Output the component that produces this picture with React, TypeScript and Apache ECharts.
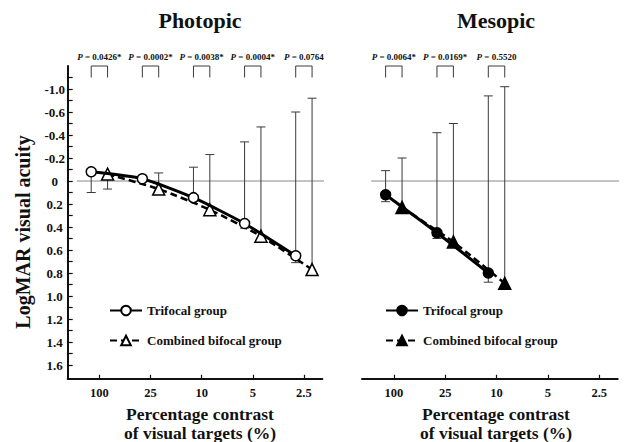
import React, { useEffect, useRef } from "react";
import * as echarts from "echarts";

// ---------- data ----------
const contrastLabels = ["100", "25", "10", "5", "2.5"];
const contrastTicks = [0, 1, 2, 3, 4];
const yLabelValues = [-0.8, -0.6, -0.4, -0.2, 0, 0.2, 0.4, 0.6, 0.8, 1.0, 1.2, 1.4, 1.6];
const yLabelTexts = ["-1.0", "-0.6", "-0.4", "-0.2", "0", "0.2", "0.4", "0.6", "0.8", "1.0", "1.2", "1.4", "1.6"];
const yTickValues = [
  -0.9, -0.8, -0.7, -0.6, -0.5, -0.4, -0.3, -0.2, -0.1, 0, 0.1, 0.2, 0.3, 0.4, 0.5, 0.6, 0.7, 0.8,
  0.9, 1.0, 1.1, 1.2, 1.3, 1.4, 1.5, 1.6,
];

const photopicTrifocal = [-0.08, -0.02, 0.145, 0.37, 0.65];
const photopicTrifocalUpper = [null, -0.05, -0.12, -0.34, -0.6];
const photopicTrifocalLower = [0.1, null, null, 0.41, 0.71];
const photopicBifocal = [-0.06, 0.07, 0.25, 0.48, 0.77];
const photopicBifocalUpper = [null, -0.07, -0.23, -0.47, -0.72];
const photopicBifocalLower = [0.07, null, null, null, null];
const photopicP = ["0.0426*", "0.0002*", "0.0038*", "0.0004*", "0.0764"];

const mesopicTrifocal = [0.12, 0.45, 0.8];
const mesopicTrifocalUpper = [-0.09, -0.42, -0.74];
const mesopicTrifocalLower = [0.18, 0.5, 0.88];
const mesopicBifocal = [0.23, 0.53, 0.89];
const mesopicBifocalUpper = [-0.2, -0.5, -0.82];
const mesopicBifocalLower = [null, null, null];
const mesopicP = ["0.0064*", "0.0169*", "0.5520"];

const TRI = "Trifocal group";
const BI = "Combined bifocal group";

// ---------- layout ----------
const FONT = "'Liberation Serif', 'Times New Roman', serif";
const X_MIN = -0.62;
const X_MAX = 4.36;
const Y_MIN = -1.0;
const Y_MAX = 1.72;
const DODGE = 0.16;
const ZERO_FROM = -0.44;
const ZERO_TO = 4.59;
const BRACKET_TOP = -1.0;
const BRACKET_LEG = -0.9;

type Num = number | null;

function errItems(means: number[], uppers: Num[], lowers: Num[], offset: number) {
  const out: number[][] = [];
  means.forEach((m, i) => {
    const x = i + offset;
    if (uppers[i] != null) out.push([x, m, uppers[i] as number]);
    if (lowers[i] != null) out.push([x, m, lowers[i] as number]);
  });
  return out;
}

function panelSeries(
  g: number,
  tri: number[],
  triU: Num[],
  triL: Num[],
  bi: number[],
  biU: Num[],
  biL: Num[],
  pvals: string[],
  filled: boolean
) {
  const fill = filled ? "#000" : "#fff";
  return [
    {
      type: "line",
      xAxisIndex: g,
      yAxisIndex: g,
      data: [
        [ZERO_FROM, 0],
        [ZERO_TO, 0],
      ],
      symbol: "none",
      clip: false,
      silent: true,
      lineStyle: { color: "#888", width: 1 },
      z: 1,
    },
    {
      type: "custom",
      xAxisIndex: g,
      yAxisIndex: g,
      silent: true,
      z: 2,
      encode: { x: 0, y: [1, 2] },
      data: [...errItems(tri, triU, triL, -DODGE), ...errItems(bi, biU, biL, DODGE)],
      renderItem: (params: any, api: any) => {
        const x = api.value(0);
        const p0 = api.coord([x, api.value(1)]);
        const p1 = api.coord([x, api.value(2)]);
        const st = { stroke: "#3a3a3a", lineWidth: 1 };
        return {
          type: "group",
          children: [
            { type: "line", shape: { x1: p0[0], y1: p0[1], x2: p1[0], y2: p1[1] }, style: st },
            { type: "line", shape: { x1: p1[0] - 4.5, y1: p1[1], x2: p1[0] + 4.5, y2: p1[1] }, style: st },
          ],
        };
      },
    },
    {
      name: TRI,
      type: "line",
      xAxisIndex: g,
      yAxisIndex: g,
      data: tri.map((v, i) => [i - DODGE, v]),
      symbol: "circle",
      symbolSize: 10,
      smooth: 0.2,
      itemStyle: { color: fill, borderColor: "#000", borderWidth: 1.5 },
      lineStyle: { color: "#000", width: 3 },
      z: 4,
    },
    {
      name: BI,
      type: "line",
      xAxisIndex: g,
      yAxisIndex: g,
      data: bi.map((v, i) => [i + DODGE, v]),
      symbol: "triangle",
      symbolSize: 12,
      smooth: 0.2,
      itemStyle: { color: fill, borderColor: "#000", borderWidth: 1.5 },
      lineStyle: { color: "#000", width: 2.5, type: [7, 4] },
      z: 3,
    },
    {
      type: "custom",
      xAxisIndex: g,
      yAxisIndex: g,
      silent: true,
      z: 2,
      encode: { x: 0, y: 1 },
      data: pvals.map((_, i) => [i, BRACKET_TOP]),
      renderItem: (params: any, api: any) => {
        const i = api.value(0);
        const a = api.coord([i - DODGE, BRACKET_LEG]);
        const b = api.coord([i - DODGE, BRACKET_TOP]);
        const c = api.coord([i + DODGE, BRACKET_TOP]);
        const d = api.coord([i + DODGE, BRACKET_LEG]);
        const txt = pvals[params.dataIndex];
        const base = { fontFamily: FONT, fontWeight: "bold", fontSize: 9, fill: "#111" };
        return {
          type: "group",
          children: [
            {
              type: "polyline",
              shape: { points: [a, b, c, d] },
              style: { stroke: "#3a3a3a", lineWidth: 1, fill: "none" },
            },
            {
              type: "text",
              x: (b[0] + c[0]) / 2,
              y: b[1] - 5,
              style: {
                text: `{i|P}{n| = ${txt}}`,
                align: "center",
                verticalAlign: "bottom",
                ...base,
                rich: {
                  i: { ...base, fontStyle: "italic" },
                  n: { ...base },
                },
              },
            },
          ],
        };
      },
    },
  ];
}

function xAxisFor(g: number) {
  return {
    type: "value",
    gridIndex: g,
    min: X_MIN,
    max: X_MAX,
    axisLine: { show: true, onZero: false, lineStyle: { color: "#111", width: 2 } },
    axisTick: {
      show: true,
      inside: true,
      length: 4,
      customValues: contrastTicks,
      lineStyle: { color: "#111", width: 1.2 },
    },
    axisLabel: {
      show: true,
      customValues: contrastTicks,
      formatter: (v: number) => contrastLabels[Math.round(v)] ?? "",
      fontFamily: FONT,
      fontWeight: "bold",
      fontSize: 12.5,
      color: "#111",
      margin: 8,
    },
    splitLine: { show: false },
  };
}

function yLabel(v: number) {
  const k = yLabelValues.findIndex((t) => Math.abs(t - v) < 1e-6);
  return k >= 0 ? yLabelTexts[k] : "";
}

const legendText = { fontFamily: FONT, fontWeight: "bold", fontSize: 13, color: "#111" };

const option: any = {
  animation: false,
  backgroundColor: "#fff",
  grid: [
    { left: 67.7, right: 306.7, top: 66, bottom: 63.2 },
    { left: 362, right: 11.3, top: 66, bottom: 63.2 },
  ],
  xAxis: [xAxisFor(0), xAxisFor(1)],
  yAxis: [
    {
      type: "value",
      gridIndex: 0,
      min: Y_MIN,
      max: Y_MAX,
      inverse: true,
      axisLine: { show: true, onZero: false, lineStyle: { color: "#111", width: 2 } },
      axisTick: {
        show: true,
        inside: true,
        length: 5,
        customValues: yTickValues,
        lineStyle: { color: "#111", width: 1.2 },
      },
      axisLabel: {
        show: true,
        customValues: yLabelValues,
        formatter: yLabel,
        align: "center",
        margin: 13,
        fontFamily: FONT,
        fontWeight: "bold",
        fontSize: 13,
        color: "#111",
      },
      splitLine: { show: false },
    },
    {
      type: "value",
      gridIndex: 1,
      min: Y_MIN,
      max: Y_MAX,
      inverse: true,
      show: false,
      splitLine: { show: false },
    },
  ],
  legend: [
    {
      left: 104,
      top: 299,
      orient: "vertical",
      itemWidth: 32,
      itemHeight: 12,
      itemGap: 17,
      selectedMode: false,
      data: [TRI, BI],
      textStyle: legendText,
    },
    {
      left: 380,
      top: 299,
      orient: "vertical",
      itemWidth: 32,
      itemHeight: 12,
      itemGap: 17,
      selectedMode: false,
      data: [
        { name: TRI, itemStyle: { color: "#000" } },
        { name: BI, itemStyle: { color: "#000" } },
      ],
      textStyle: legendText,
    },
  ],
  graphic: [
    {
      type: "text",
      x: 200,
      y: 20,
      style: { text: "Photopic", fontFamily: FONT, fontWeight: "bold", fontSize: 22, fill: "#111", align: "center", verticalAlign: "middle" },
    },
    {
      type: "text",
      x: 496,
      y: 20,
      style: { text: "Mesopic", fontFamily: FONT, fontWeight: "bold", fontSize: 22, fill: "#111", align: "center", verticalAlign: "middle" },
    },
    {
      type: "text",
      x: 23,
      y: 232,
      rotation: Math.PI / 2,
      style: { text: "LogMAR visual acuity", fontFamily: FONT, fontWeight: "bold", fontSize: 20, fill: "#111", align: "center", verticalAlign: "middle" },
    },
    {
      type: "text",
      x: 200,
      y: 423,
      style: {
        text: "Percentage contrast\nof visual targets (%)",
        fontFamily: FONT,
        fontWeight: "bold",
        fontSize: 17.5,
        lineHeight: 19,
        fill: "#111",
        align: "center",
        verticalAlign: "middle",
      },
    },
    {
      type: "text",
      x: 496,
      y: 423,
      style: {
        text: "Percentage contrast\nof visual targets (%)",
        fontFamily: FONT,
        fontWeight: "bold",
        fontSize: 17.5,
        lineHeight: 19,
        fill: "#111",
        align: "center",
        verticalAlign: "middle",
      },
    },
  ],
  series: [
    ...panelSeries(0, photopicTrifocal, photopicTrifocalUpper, photopicTrifocalLower, photopicBifocal, photopicBifocalUpper, photopicBifocalLower, photopicP, false),
    ...panelSeries(1, mesopicTrifocal, mesopicTrifocalUpper, mesopicTrifocalLower, mesopicBifocal, mesopicBifocalUpper, mesopicBifocalLower, mesopicP, true),
  ],
};

export default function App() {
  const ref = useRef<HTMLDivElement>(null);
  useEffect(() => {
    document.body.style.margin = "0";
    const chart = echarts.init(ref.current as HTMLDivElement, null, { renderer: "svg" });
    chart.setOption(option);
    return () => chart.dispose();
  }, []);
  return <div ref={ref} style={{ width: 629, height: 442 }} />;
}
